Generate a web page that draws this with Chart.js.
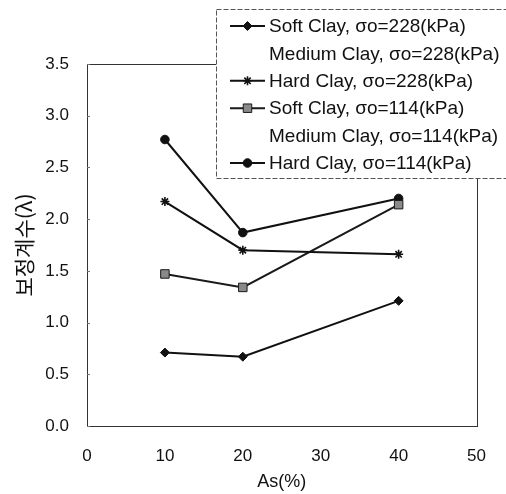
<!DOCTYPE html>
<html>
<head>
<meta charset="utf-8">
<script src="https://cdn.jsdelivr.net/npm/chart.js@4/dist/chart.umd.min.js"></script>
<style>
  html, body { margin: 0; padding: 0; background: #fff; }
  #wrap { width: 506px; height: 494px; position: relative; }
</style>
</head>
<body>
<div id="wrap"><canvas id="c" width="506" height="494"></canvas></div>
<script>
// ---- Data ----
const asPercent = [10, 20, 40];
const softClay228 = [0.71, 0.67, 1.21];
const mediumClay228 = [];   // not visible in the reference
const hardClay228 = [2.17, 1.70, 1.66];
const softClay114 = [1.47, 1.34, 2.14];
const mediumClay114 = [];   // not visible in the reference
const hardClay114 = [2.77, 1.87, 2.20];

const seriesLabels = [
  'Soft Clay, σo=228(kPa)',
  'Medium Clay, σo=228(kPa)',
  'Hard Clay, σo=228(kPa)',
  'Soft Clay, σo=114(kPa)',
  'Medium Clay, σo=114(kPa)',
  'Hard Clay, σo=114(kPa)'
];
const xTickValues = [0, 10, 20, 30, 40, 50];
const yTickValues = [0, 0.5, 1.0, 1.5, 2.0, 2.5, 3.0, 3.5];
const xTitle = 'As(%)';
const yTitle = '보정계수(λ)';

function pts(ys) { return ys.map((y, i) => ({ x: asPercent[i], y: y })); }

const styles = [
  { color: '#111', width: 2, pointStyle: 'rectRot', radius: 4.5, fill: '#111', pbw: 1, visible: true },
  { color: 'rgba(0,0,0,0)', width: 0, pointStyle: false, radius: 0, fill: 'rgba(0,0,0,0)', pbw: 0, visible: false },
  { color: '#111', width: 2, pointStyle: 'star', radius: 4.5, fill: '#111', pbw: 1.6, visible: true },
  { color: '#1a1a1a', width: 2, pointStyle: 'rect', radius: 6, fill: '#8a8a8a', pbw: 1, visible: true },
  { color: 'rgba(0,0,0,0)', width: 0, pointStyle: false, radius: 0, fill: 'rgba(0,0,0,0)', pbw: 0, visible: false },
  { color: '#111', width: 2, pointStyle: 'circle', radius: 4.3, fill: '#111', pbw: 1, visible: true }
];
const seriesData = [softClay228, mediumClay228, hardClay228, softClay114, mediumClay114, hardClay114];

const datasets = seriesData.map((d, i) => ({
  label: seriesLabels[i],
  data: pts(d),
  borderColor: styles[i].color,
  backgroundColor: styles[i].fill,
  borderWidth: styles[i].width,
  pointStyle: styles[i].pointStyle,
  pointRadius: styles[i].radius,
  pointBorderColor: styles[i].color,
  pointBackgroundColor: styles[i].fill,
  pointBorderWidth: styles[i].pbw,
  tension: 0,
  fill: false
}));

const frameAndLegend = {
  id: 'frameAndLegend',
  beforeDatasetsDraw(chart) {
    const { ctx, chartArea: a, scales } = chart;
    ctx.save();
    ctx.strokeStyle = '#333';
    ctx.lineWidth = 1;
    ctx.strokeRect(Math.round(a.left) + 0.5, Math.round(a.top) + 0.5,
                   Math.round(a.right - a.left), Math.round(a.bottom - a.top));
    // small inner tick marks on the y axis
    ctx.strokeStyle = '#777';
    yTickValues.forEach(v => {
      const y = Math.round(scales.y.getPixelForValue(v)) + 0.5;
      ctx.beginPath();
      ctx.moveTo(a.left, y);
      ctx.lineTo(a.left + 3, y);
      ctx.stroke();
    });
    ctx.restore();
  },
  afterDraw(chart) {
    const { ctx } = chart;
    const box = { left: 216, top: 9, right: 512, bottom: 178 };
    ctx.save();
    ctx.fillStyle = '#fff';
    ctx.fillRect(box.left, box.top, box.right - box.left, box.bottom - box.top);
    ctx.strokeStyle = '#555';
    ctx.lineWidth = 1;
    ctx.setLineDash([5, 2]);
    ctx.strokeRect(box.left + 0.5, box.top + 0.5, box.right - box.left, box.bottom - box.top);
    ctx.setLineDash([]);
    const rowY0 = 26, rowStep = 27.4;
    chart.data.datasets.forEach((ds, i) => {
      const y = rowY0 + i * rowStep;
      const st = styles[i];
      if (st.visible) {
        ctx.strokeStyle = st.color;
        ctx.lineWidth = st.width;
        ctx.beginPath();
        ctx.moveTo(230, y);
        ctx.lineTo(265, y);
        ctx.stroke();
        ctx.fillStyle = st.fill;
        ctx.strokeStyle = st.color;
        ctx.lineWidth = st.pbw;
        Chart.helpers.drawPoint(ctx, { pointStyle: st.pointStyle, radius: st.radius, rotation: 0, borderWidth: st.pbw }, 247.5, y);
      }
      ctx.fillStyle = '#111';
      ctx.font = '19px "Liberation Sans", Arial, sans-serif';
      ctx.textBaseline = 'middle';
      ctx.textAlign = 'left';
      ctx.fillText(ds.label, 269, y + 1);
    });
    ctx.restore();
  }
};

new Chart(document.getElementById('c'), {
  type: 'line',
  data: { datasets },
  options: {
    responsive: false,
    animation: false,
    devicePixelRatio: 1,
    layout: { padding: { top: 64, right: 22, left: 0, bottom: 0 } },
    plugins: { legend: { display: false }, tooltip: { enabled: false } },
    scales: {
      x: {
        type: 'linear',
        min: 0, max: 50,
        afterBuildTicks(scale) { scale.ticks = xTickValues.map(v => ({ value: v })); },
        afterFit(scale) { scale.height = 68; },
        grid: { display: false, drawTicks: false },
        border: { display: false },
        ticks: { padding: 20, color: '#111', font: { size: 17, family: '"Liberation Sans", Arial, sans-serif' },
                 callback: v => String(v) },
        title: { display: true, text: xTitle, color: '#111', padding: { top: 0, bottom: 1 },
                 font: { size: 18, family: '"Liberation Sans", Arial, sans-serif' } }
      },
      y: {
        type: 'linear',
        min: 0, max: 3.5,
        afterBuildTicks(scale) { scale.ticks = yTickValues.map(v => ({ value: v })); },
        afterFit(scale) { scale.width = 87; },
        grid: { display: false, drawTicks: false },
        border: { display: false },
        ticks: { padding: 18, color: '#111', font: { size: 17, family: '"Liberation Sans", Arial, sans-serif' },
                 callback: v => Number(v).toFixed(1) },
        title: { display: true, text: yTitle, color: '#111', padding: { top: 11, bottom: 0 },
                 font: { size: 21, family: '"Noto Sans CJK KR", sans-serif', weight: 'normal' } }
      }
    }
  },
  plugins: [frameAndLegend]
});
</script>
</body>
</html>
